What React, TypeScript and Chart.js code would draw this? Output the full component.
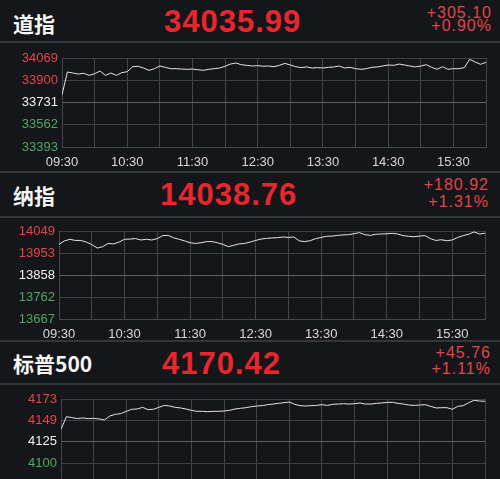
import React, { useEffect, useRef } from "react";
import { Chart, registerables } from "chart.js";

Chart.register(...registerables);

// Session runs 09:30 → 16:00, sampled every 5 minutes.
const stepMinutes = 5;
const sessionMinutes = 390;
const gridMinutes = [0, 30, 60, 90, 120, 150, 180, 210, 240, 270, 300, 330, 360, 390];
const timeLabels = ["09:30", "10:30", "11:30", "12:30", "13:30", "14:30", "15:30"];

// Dow Jones Industrial Average
const dowValues = [
  33790, 33963, 33955, 33947, 33953, 33937, 33950, 33970, 33937, 33955,
  33937, 33958, 33965, 34003, 34006, 33993, 33975, 33988, 34008, 33998,
  33988, 33988, 33985, 33983, 33985, 33980, 33975, 33983, 33988, 33993,
  34006, 34023, 34031, 34018, 34013, 34008, 34011, 34006, 34008, 34003,
  34013, 34028, 34016, 34003, 33996, 34001, 33993, 33996, 33993, 33998,
  34001, 34008, 33993, 33998, 33988, 33983, 33988, 33998, 34001, 34008,
  34016, 34013, 34023, 34016, 34008, 34001, 34008, 34018, 33998, 33983,
  34003, 33983, 33988, 33988, 33996, 34059, 34039, 34021, 34035.99,
];
const dowTicks = [33393, 33562, 33731, 33900, 34069];

// Nasdaq Composite
const nasdaqValues = [
  13991, 14006, 14013, 14008, 14008, 14001, 13990, 13975, 13981, 13995,
  13993, 14001, 14013, 14014, 14016, 14010, 14013, 14010, 14016, 14029,
  14030, 14019, 14013, 14006, 13998, 13995, 13998, 14003, 14003, 13998,
  13991, 13981, 13987, 13993, 13995, 14001, 14008, 14014, 14017, 14019,
  14020, 14023, 14021, 14023, 14006, 14003, 14007, 14016, 14021, 14026,
  14027, 14030, 14032, 14033, 14037, 14042, 14033, 14030, 14035, 14036,
  14037, 14039, 14036, 14029, 14026, 14024, 14027, 14029, 14016, 14008,
  14011, 14007, 14010, 14021, 14029, 14035, 14045, 14036, 14038.76,
];
const nasdaqTicks = [13667, 13762, 13858, 13953, 14049];

// S&P 500
const spxValues = [
  4138.9, 4153.1, 4152.0, 4150.9, 4151.6, 4150.9, 4151.2, 4150.5, 4149.4, 4153.9,
  4155.7, 4156.5, 4159.1, 4161.4, 4161.7, 4163.6, 4161.0, 4161.4, 4163.6, 4165.8,
  4165.1, 4163.6, 4162.9, 4161.7, 4160.2, 4159.1, 4159.1, 4158.7, 4159.1, 4159.1,
  4159.5, 4160.2, 4161.7, 4162.5, 4163.2, 4164.3, 4165.1, 4165.5, 4166.6, 4167.3,
  4168.1, 4168.8, 4169.6, 4167.0, 4165.5, 4165.1, 4165.5, 4165.8, 4166.6, 4165.8,
  4167.0, 4167.3, 4167.7, 4167.3, 4167.7, 4168.5, 4167.3, 4167.3, 4168.1, 4168.5,
  4169.2, 4169.2, 4168.1, 4167.3, 4166.2, 4165.8, 4166.2, 4166.6, 4164.7, 4162.9,
  4163.2, 4163.2, 4161.4, 4164.7, 4165.5, 4168.8, 4171.5, 4170.7, 4170.42,
];
const spxTicks = [4076, 4100, 4125, 4149, 4173];

// Header texts
const indexNames = ["道指", "纳指", "标普500"];
const lastPrices = ["34035.99", "14038.76", "4170.42"];
const changePoints = ["+305.10", "+180.92", "+45.76"];
const changePercents = ["+0.90%", "+1.31%", "+1.11%"];

const BG = "#151619";
const UP = "#e8262e";
const UP_SOFT = "#e0454d";
const DOWN_SOFT = "#4fa765";
const LATIN = "'Liberation Sans', Arial, sans-serif";
const CJK = "'Noto Sans CJK SC', 'Noto Sans', sans-serif";
const tickColors = [DOWN_SOFT, DOWN_SOFT, "#f0f0f0", UP_SOFT, UP_SOFT];

type Frame = {
  top: number;
  height: number;
  padTop: number;
  padRight: number;
  yAxisWidth: number;
  xAxisHeight: number;
};

function IntradayChart({ values, yTicks, frame }: { values: number[]; yTicks: number[]; frame: Frame }) {
  const ref = useRef<HTMLCanvasElement | null>(null);

  useEffect(() => {
    const canvas = ref.current;
    if (!canvas) return;
    const chart = new Chart(canvas, {
      type: "line",
      data: {
        datasets: [
          {
            data: values.map((v, i) => ({ x: i * stepMinutes, y: v })),
            borderColor: "#e4e4e4",
            borderWidth: 1,
            pointRadius: 0,
            tension: 0,
            fill: false,
          },
        ],
      },
      options: {
        responsive: false,
        animation: false,
        events: [],
        layout: { padding: { top: frame.padTop, right: frame.padRight, left: 0, bottom: 0 } },
        plugins: { legend: { display: false }, tooltip: { enabled: false } },
        scales: {
          x: {
            type: "linear",
            min: 0,
            max: sessionMinutes,
            afterBuildTicks: (axis: any) => {
              axis.ticks = gridMinutes.map((v) => ({ value: v }));
            },
            afterFit: (axis: any) => {
              axis.height = frame.xAxisHeight;
            },
            ticks: {
              autoSkip: false,
              maxRotation: 0,
              minRotation: 0,
              color: "#d8d8d8",
              font: { family: LATIN, size: 13 },
              padding: 8,
              callback: (v: any) => (Number(v) % 60 === 0 ? timeLabels[Number(v) / 60] ?? "" : ""),
            },
            grid: { color: "#45464b", drawTicks: false, lineWidth: 1 },
            border: { color: "#45464b" },
          },
          y: {
            type: "linear",
            min: yTicks[0],
            max: yTicks[yTicks.length - 1],
            afterBuildTicks: (axis: any) => {
              axis.ticks = yTicks.map((v) => ({ value: v }));
            },
            afterFit: (axis: any) => {
              axis.width = frame.yAxisWidth;
            },
            ticks: {
              color: (ctx: any) => tickColors[ctx.index] ?? "#f0f0f0",
              font: { family: LATIN, size: 13 },
              padding: 4,
              callback: (v: any) => String(v),
            },
            grid: {
              color: (ctx: any) => (ctx.index === 2 ? "#5e5f64" : "#3e3f44"),
              drawTicks: false,
              lineWidth: 1,
            },
            border: { color: "#45464b" },
          },
        },
      },
    } as any);
    return () => chart.destroy();
  }, [values, yTicks, frame]);

  return (
    <canvas
      ref={ref}
      width={500}
      height={frame.height}
      style={{ position: "absolute", left: 0, top: frame.top, width: 500, height: frame.height, display: "block" }}
    />
  );
}

function Text({
  children,
  left,
  right,
  centerY,
  size,
  color,
  family,
  weight,
  spacing,
}: {
  children: React.ReactNode;
  left?: number;
  right?: number;
  centerY: number;
  size: number;
  color: string;
  family: string;
  weight?: number;
  spacing?: number;
}) {
  return (
    <div
      style={{
        position: "absolute",
        left,
        right,
        top: centerY - size / 2,
        height: size,
        lineHeight: `${size}px`,
        fontSize: size,
        fontFamily: family,
        fontWeight: weight ?? 400,
        color,
        letterSpacing: spacing ?? 0,
        whiteSpace: "nowrap",
      }}
    >
      {children}
    </div>
  );
}

function Divider({ y }: { y: number }) {
  return <div style={{ position: "absolute", left: 0, top: y, width: 500, height: 2, background: "#35363a" }} />;
}

const frames: Frame[] = [
  { top: 44, height: 128, padTop: 14, padRight: 14, yAxisWidth: 62, xAxisHeight: 25 },
  { top: 219, height: 123, padTop: 12, padRight: 15, yAxisWidth: 59, xAxisHeight: 23 },
  { top: 386, height: 126, padTop: 13, padRight: 15, yAxisWidth: 61, xAxisHeight: 27 },
];

const headers = [
  { titleY: 23, priceLeft: 164, priceY: 21, changeRight: 8, changeY: 13, pctY: 26 },
  { titleY: 195.5, priceLeft: 160, priceY: 194.5, changeRight: 11, changeY: 184.5, pctY: 202 },
  { titleY: 363, priceLeft: 162, priceY: 363, changeRight: 9, changeY: 353, pctY: 368.5 },
];

export default function App() {
  const series = [dowValues, nasdaqValues, spxValues];
  const ticks = [dowTicks, nasdaqTicks, spxTicks];
  return (
    <div
      style={{
        position: "fixed",
        left: 0,
        top: 0,
        width: 500,
        height: 479,
        overflow: "hidden",
        background: BG,
      }}
    >
      {headers.map((h, i) => (
        <React.Fragment key={indexNames[i]}>
          <Text left={13} centerY={h.titleY} size={21} color="#f5f5f5" family={CJK} weight={700}>
            {indexNames[i]}
          </Text>
          <Text left={h.priceLeft} centerY={h.priceY} size={31} color={UP} family={LATIN} weight={700} spacing={1}>
            {lastPrices[i]}
          </Text>
          <Text right={h.changeRight} centerY={h.changeY} size={16} color={UP_SOFT} family={LATIN} spacing={1}>
            {changePoints[i]}
          </Text>
          <Text right={h.changeRight} centerY={h.pctY} size={16} color={UP_SOFT} family={LATIN} spacing={1}>
            {changePercents[i]}
          </Text>
        </React.Fragment>
      ))}
      <Divider y={41} />
      <Divider y={171} />
      <Divider y={216} />
      <Divider y={340} />
      <Divider y={383} />
      <IntradayChart values={series[0]} yTicks={ticks[0]} frame={frames[0]} />
      <IntradayChart values={series[1]} yTicks={ticks[1]} frame={frames[1]} />
      <IntradayChart values={series[2]} yTicks={ticks[2]} frame={frames[2]} />
    </div>
  );
}
